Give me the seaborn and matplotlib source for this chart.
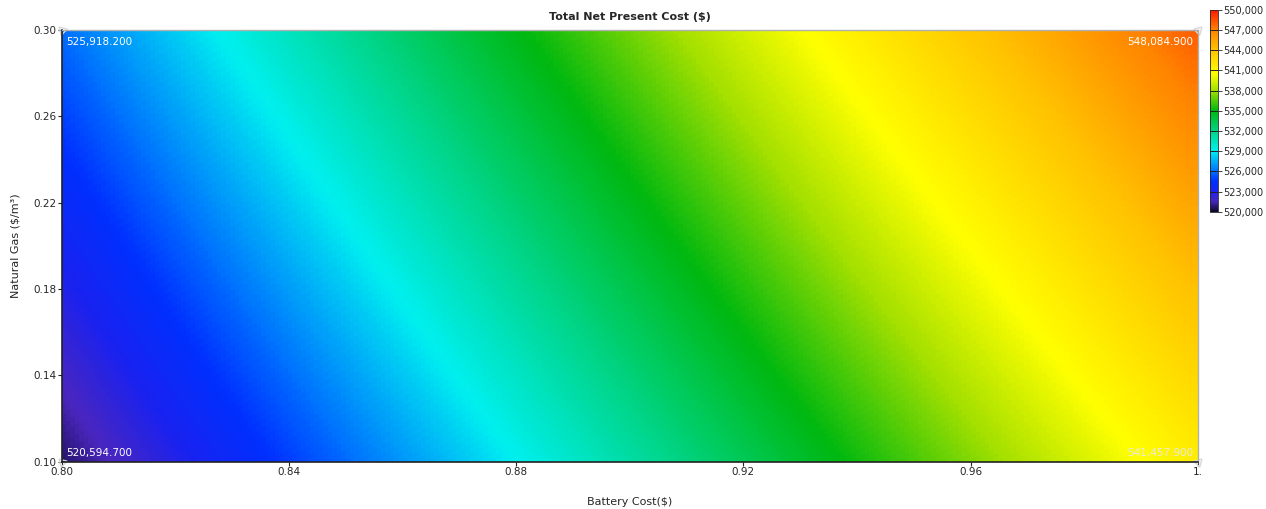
import numpy as np
import matplotlib
matplotlib.use("Agg")
import matplotlib.pyplot as plt
import seaborn as sns
from matplotlib.colors import LinearSegmentedColormap

sns.set_theme(style="white")
plt.rcParams['font.family'] = ['DejaVu Sans']

# sensitivity corners
battery_cost = [0.80, 1.00]
gas_price = [0.10, 0.30]
npc = [[520594.7, 541457.9],   # gas = 0.10
       [525918.2, 548084.9]]   # gas = 0.30

x_ticks = [0.80, 0.84, 0.88, 0.92, 0.96, 1.00]
x_labels = ['0.80', '0.84', '0.88', '0.92', '0.96', '1.']
y_ticks = [0.10, 0.14, 0.18, 0.22, 0.26, 0.30]
cbar_ticks = [520000, 523000, 526000, 529000, 532000, 535000,
              538000, 541000, 544000, 547000, 550000]

vmin, vmax = 520000, 550000
anchors = [(520000, '#0a0a2a'), (521500, '#4a26bf'), (523000, '#1a22f0'),
           (524500, '#0030ff'), (526000, '#0070ff'), (529000, '#00f0f0'),
           (532000, '#00d484'), (535000, '#00b810'), (538000, '#a4e000'),
           (540500, '#ffff00'), (544000, '#ffc400'), (547000, '#ff8400'),
           (550000, '#ff1a00')]
homer = LinearSegmentedColormap.from_list(
    'homer', [((v - vmin) / (vmax - vmin), c) for v, c in anchors])

fig = plt.figure(figsize=(12.66, 5.09), dpi=100)
ax = fig.add_axes([0.049, 0.0925, 0.897, 0.849])

dx = battery_cost[1] - battery_cost[0]
dy = gas_price[1] - gas_price[0]
img = ax.imshow(np.array(npc), origin='lower', cmap=homer, vmin=vmin, vmax=vmax,
                interpolation='bilinear', interpolation_stage='data', aspect='auto',
                extent=[battery_cost[0] - dx / 2, battery_cost[1] + dx / 2,
                        gas_price[0] - dy / 2, gas_price[1] + dy / 2])
ax.set_xlim(battery_cost[0], battery_cost[1])
ax.set_ylim(gas_price[0], gas_price[1])

ax.set_xticks(x_ticks)
ax.set_xticklabels(x_labels, fontsize=7.5)
ax.set_yticks(y_ticks)
ax.set_yticklabels(['%.2f' % t for t in y_ticks], fontsize=7.5)
ax.tick_params(axis='both', direction='out', length=3, width=0.8, color='#222222', pad=1)
ax.tick_params(axis='x', bottom=True)
ax.tick_params(axis='y', left=True)
for s in ['left', 'bottom']:
    ax.spines[s].set_color('#222222')
    ax.spines[s].set_linewidth(1.2)
for s in ['top', 'right']:
    ax.spines[s].set_color('#b0b0b0')
    ax.spines[s].set_linewidth(1.0)

ax.set_title('Total Net Present Cost ($)', fontsize=8, pad=7, fontweight='semibold')
ax.set_xlabel('Battery Cost($)', fontsize=8, labelpad=14)
ax.set_ylabel('Natural Gas ($/m³)', fontsize=8, labelpad=9)

# corner values
for i, g in enumerate(gas_price):
    for j, b in enumerate(battery_cost):
        ha = 'left' if j == 0 else 'right'
        va = 'top' if i == 1 else 'bottom'
        ox = 3 if j == 0 else -3
        oy = -5 if i == 1 else 3
        col = '#e8e8e8' if (i == 0 and j == 1) else 'white'
        ax.annotate(f'{npc[i][j]:,.3f}', (b, g), xytext=(ox, oy),
                    textcoords='offset points', ha=ha, va=va,
                    fontsize=7.5, color=col)
        ax.plot(b, g, marker=(3, 0, 45 if j == 0 else -45), markersize=7,
                markerfacecolor='none', markeredgecolor='#d8d8d8',
                markeredgewidth=1.0, clip_on=False)

cax = fig.add_axes([0.9555, 0.584, 0.0063, 0.397])
cb = fig.colorbar(img, cax=cax, ticks=cbar_ticks)
cb.ax.set_yticklabels([f'{t:,}' for t in cbar_ticks], fontsize=7)
cb.ax.tick_params(length=3, width=0.6, pad=1)
cb.outline.set_linewidth(0.6)
for t in cbar_ticks[1:-1]:
    cb.ax.axhline(t, color='#202020', linewidth=0.7)

fig.savefig('out.png', dpi=100)
